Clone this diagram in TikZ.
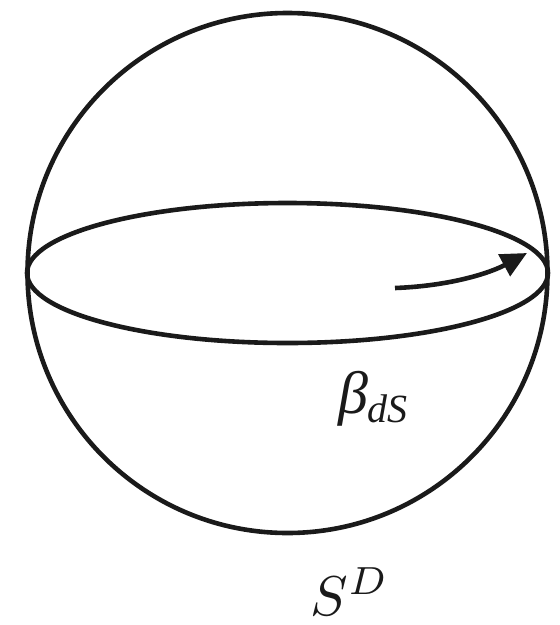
\documentclass[tikz,border=0pt]{standalone}
\usepackage{fontspec}
\usetikzlibrary{arrows.meta,shapes.geometric}
\newfontfamily\libit{Liberation Serif Italic}
\definecolor{ink}{HTML}{1A1A1A}
\begin{document}
\begin{tikzpicture}[x=1pt,y=-1pt,line width=4.6pt,
  curve/.style={draw=ink},
  lbl/.style={inner sep=0pt, text=ink}]
\useasboundingbox (0,0) rectangle (560,625);
\node[circle, draw=ink, line width=4.6pt, minimum size=520pt, inner sep=0pt] (sphere) at (287.5,273) {};
\node[ellipse, draw=ink, line width=4.6pt, minimum width=521pt, minimum height=140pt, inner sep=0pt] (eq) at (287.5,273) {};
\coordinate (a0) at (395,288);
\coordinate (a1) at (527,253);
\draw[curve, -{Triangle[length=26pt,width=24pt]}] (a0) .. controls (450,286) and (490,273) .. (a1);
\node[lbl, anchor=base west] (beta) at (336,413) {\libit\fontsize{60}{60}\selectfont β\kern-1pt\raisebox{-9pt}{\fontsize{40}{40}\selectfont dS}};
\node[lbl, anchor=base] (sd) at (350,615) {\scalebox{5.6}{$S^D$}};
\end{tikzpicture}
\end{document}
